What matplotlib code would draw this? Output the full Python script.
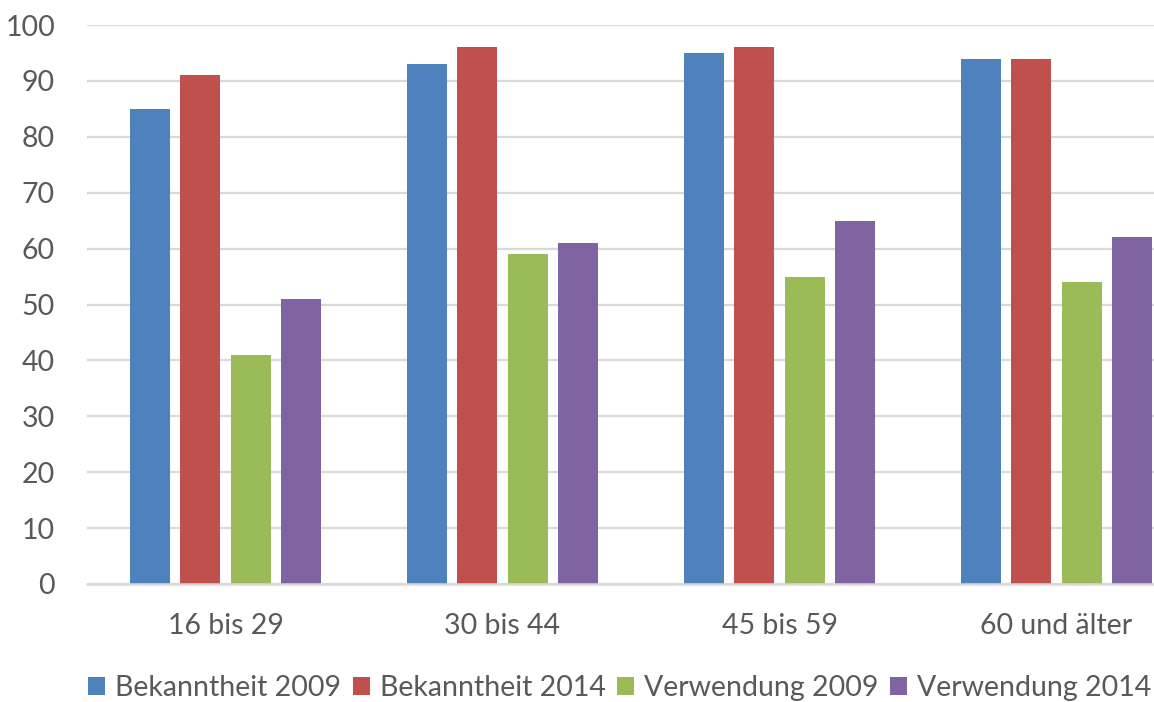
import numpy as np
import matplotlib.pyplot as plt

plt.rcParams['font.family'] = ['Lato', 'DejaVu Sans']

# Altersgruppen und Werte in Prozent
gruppen = ['16 bis 29', '30 bis 44', '45 bis 59', '60 und älter']
serien = ['Bekanntheit 2009', 'Bekanntheit 2014', 'Verwendung 2009', 'Verwendung 2014']
bekanntheit_2009 = [85, 93, 95, 94]
bekanntheit_2014 = [91, 96, 96, 94]
verwendung_2009 = [41, 59, 55, 54]
verwendung_2014 = [51, 61, 65, 62]
farben = ['#4F81BD', '#C0504D', '#9BBB59', '#8064A2']

werte = [bekanntheit_2009, bekanntheit_2014, verwendung_2009, verwendung_2014]
text_grau = '#595959'
gitter_grau = '#D9D9D9'

fig = plt.figure(figsize=(11.54, 7.02), dpi=100)
# rechter Rand der Zeichenfläche liegt außerhalb des Bildes
ax = fig.add_axes([87 / 1154, 118 / 702, 1108 / 1154, 559 / 702])

x = np.arange(len(gruppen))
breite = 0.144
abstand = 0.1816
for i, (name, vals, c) in enumerate(zip(serien, werte, farben)):
    ax.bar(x + (i - 1.5) * abstand, vals, width=breite, color=c,
           label=name, zorder=3)

ax.set_xlim(-0.5, len(gruppen) - 0.5)
ax.set_ylim(0, 100)
ax.set_yticks(range(0, 101, 10))
ax.set_xticks(x)
ax.set_xticklabels(gruppen)

ax.grid(axis='y', color=gitter_grau, linewidth=1.6, zorder=0)
for side in ['top', 'right', 'left']:
    ax.spines[side].set_visible(False)
ax.spines['bottom'].set_color(gitter_grau)
ax.spines['bottom'].set_linewidth(1.8)
ax.spines['bottom'].set_zorder(4)

ax.tick_params(axis='y', length=0, pad=23, labelsize=20.5, labelcolor=text_grau)
ax.tick_params(axis='x', length=0, pad=21, labelsize=20.5, labelcolor=text_grau)

fig.legend(loc='center right', bbox_to_anchor=(1151 / 1154, 0.02), ncol=4,
           frameon=False, fontsize=20.5, labelcolor=text_grau,
           handlelength=0.6, handleheight=0.6, handletextpad=0.35,
           columnspacing=0.4, borderaxespad=0, borderpad=0)

fig.savefig('out.png', dpi=100)
